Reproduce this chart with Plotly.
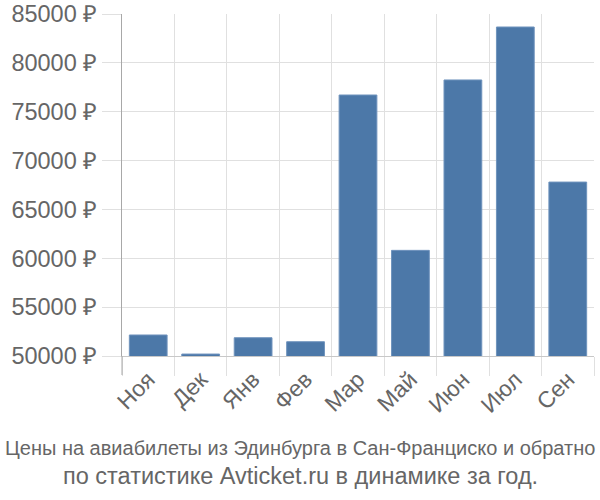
import plotly.graph_objects as go

months = ["Ноя", "Дек", "Янв", "Фев", "Мар", "Май", "Июн", "Июл", "Сен"]
prices = [52150, 50200, 51870, 51460, 76710, 60810, 78250, 83670, 67800]
y_ticks = [50000, 55000, 60000, 65000, 70000, 75000, 80000, 85000]
y_labels = [f"{v} ₽" for v in y_ticks]
title_line1 = "Цены на авиабилеты из Эдинбурга в Сан-Франциско и обратно"
title_line2 = "по статистике Avticket.ru в динамике за год."

LEFT, RIGHT, TOP, BOTTOM = 122, 6, 14, 144
pw = 600 - LEFT - RIGHT
ph = 500 - TOP - BOTTOM
cx = (300 - LEFT) / pw

fig = go.Figure(go.Bar(
    x=months, y=prices,
    marker=dict(color="#4c78a8", line=dict(color="#6f93bd", width=1)),
))

fig.update_layout(
    width=600, height=500,
    margin=dict(l=LEFT, r=RIGHT, t=TOP, b=BOTTOM),
    paper_bgcolor="white", plot_bgcolor="white",
    font=dict(family="Liberation Sans", color="#666666", size=22),
    bargap=0.28,
    showlegend=False,
    annotations=[
        dict(text=title_line1, x=cx, xref="paper", y=(356 - 448) / ph, yref="paper",
             xanchor="center", yanchor="middle", showarrow=False,
             font=dict(family="Liberation Sans", size=20, color="#666666")),
        dict(text=title_line2, x=cx, xref="paper", y=(356 - 476) / ph, yref="paper",
             xanchor="center", yanchor="middle", showarrow=False,
             font=dict(family="Liberation Sans", size=23.5, color="#666666")),
    ],
)

fig.update_xaxes(
    type="category", tickson="boundaries", automargin=False,
    showgrid=True, gridcolor="#e0e0e0", gridwidth=1,
    ticks="outside", ticklen=19, tickcolor="#e0e0e0", tickwidth=1,
    showline=True, linecolor="#c8c8c8", linewidth=1,
    tickangle=-45, tickfont=dict(size=23),
)
fig.update_yaxes(
    range=[50000, 85000], tickvals=y_ticks, ticktext=y_labels, automargin=False,
    showgrid=True, gridcolor="#e0e0e0", gridwidth=1,
    ticks="outside", ticklen=19, tickcolor="#e0e0e0", tickwidth=1,
    showline=True, linecolor="#a8a8a8", linewidth=1,
    zeroline=False, tickfont=dict(size=23.5),
)
fig.add_shape(type="line", xref="paper", yref="paper", x0=0, x1=0, y0=0, y1=-19 / ph,
              line=dict(color="#a8a8a8", width=1))

fig.write_html("out.html")
